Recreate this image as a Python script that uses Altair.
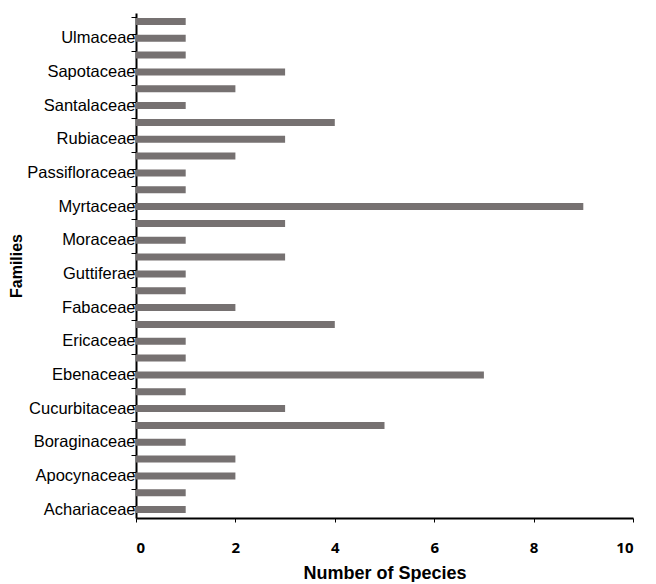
import altair as alt
import pandas as pd

families = [
    "Achariaceae", "Anacardiaceae", "Apocynaceae", "Arecaceae", "Boraginaceae",
    "Celastraceae", "Cucurbitaceae", "Dilleniaceae", "Ebenaceae", "Elaeocarpaceae",
    "Ericaceae", "Euphorbiaceae", "Fabaceae", "Flacourtiaceae", "Guttiferae",
    "Lauraceae", "Moraceae", "Myristicaceae", "Myrtaceae", "Ochnaceae",
    "Passifloraceae", "Polygonaceae", "Rubiaceae", "Rutaceae", "Santalaceae",
    "Sapindaceae", "Sapotaceae", "Simaroubaceae", "Ulmaceae", "Verbenaceae",
]
species = [1, 1, 2, 2, 1, 5, 3, 1, 7, 1,
           1, 4, 2, 1, 1, 3, 1, 3, 9, 1,
           1, 2, 3, 4, 1, 2, 3, 1, 1, 1]
shown = families[0::2]

df = pd.DataFrame({"Family": families, "Species": species})

label_expr = "indexof([" + ",".join(f"'{s}'" for s in shown) + "], datum.value) >= 0 ? datum.label : ''"

chart = alt.Chart(df).mark_bar(color="#767171").encode(
    y=alt.Y("Family:N", sort=families[::-1],
            scale=alt.Scale(paddingInner=0.58, paddingOuter=0.29),
            axis=alt.Axis(title="Families", labelExpr=label_expr, bandPosition=0,
                          tickSize=5, labelPadding=-4,
                          tickColor="black", domainColor="black", domainWidth=2,
                          labelFont="Liberation Sans", labelFontSize=16.5, labelColor="black",
                          titleFont="Liberation Sans", titleFontSize=16, titleFontWeight="bold",
                          titleColor="black", titlePadding=2)),
    x=alt.X("Species:Q", scale=alt.Scale(domain=[0, 10]),
            axis=alt.Axis(title="Number of Species", values=[0, 2, 4, 6, 8, 10],
                          grid=False, tickSize=4, labelPadding=18,
                          tickColor="black", domainColor="black", domainWidth=2,
                          labelFont="Open Sans", labelFontSize=15, labelFontWeight="bold",
                          labelColor="black",
                          titleFont="Liberation Sans", titleFontSize=18, titleFontWeight="bold",
                          titleColor="black", titlePadding=9)),
).properties(width=497, height=505,
             padding={"left": 0, "top": 4, "right": 5, "bottom": 0}
).configure_view(stroke=None)

chart.save("out.html", embed_options={"renderer": "svg", "actions": False})
